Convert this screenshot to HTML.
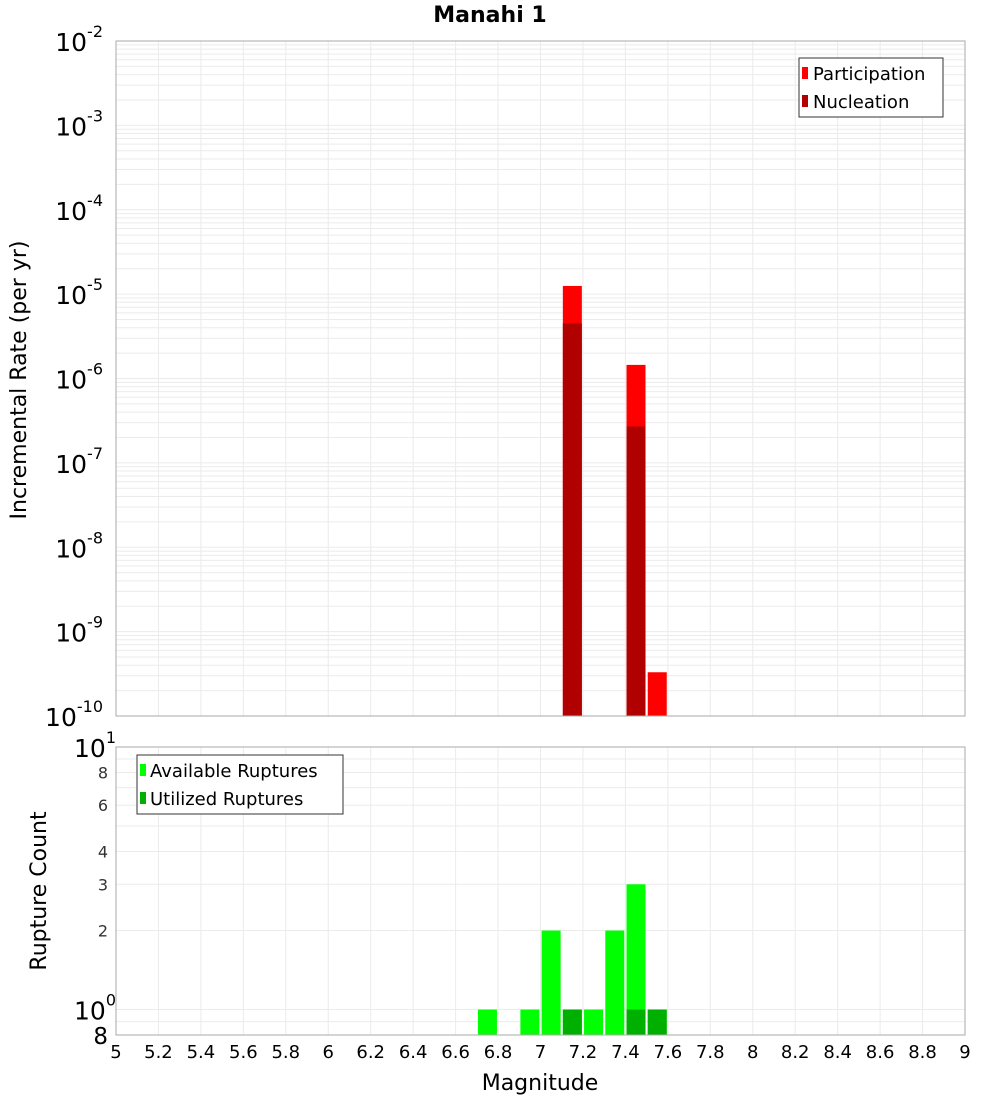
<!DOCTYPE html>
<html><head><meta charset="utf-8"><style>
body{margin:0;background:#fff;width:1000px;height:1100px;overflow:hidden}
svg{font-family:"DejaVu Sans","Liberation Sans",sans-serif}
</style></head><body>
<svg id="chart" width="1000" height="1100"></svg>
<script>
const magCenters=[7.15,7.45,7.55];
const participation=[1.25e-5,1.45e-6,3.3e-10];
const nucleation=[4.5e-6,2.7e-7,0];
const cntMags=[6.75,6.95,7.05,7.15,7.25,7.35,7.45,7.55];
const available=[1,1,2,1,1,2,3,1];
const utilized=[0,0,0,1,0,0,1,1];
const xTicks=[5,5.2,5.4,5.6,5.8,6,6.2,6.4,6.6,6.8,7,7.2,7.4,7.6,7.8,8,8.2,8.4,8.6,8.8,9];
const topExps=[-2,-3,-4,-5,-6,-7,-8,-9,-10];
const botTicks=[8,6,4,3,2];

const NS="http://www.w3.org/2000/svg";
const svg=document.getElementById('chart');
function mk(t,a,p){const e=document.createElementNS(NS,t);for(const k in a)e.setAttribute(k,a[k]);(p||svg).appendChild(e);return e;}
const L=116,R=965,T1=41,B1=716,T2=747,B2=1035;
const xs=m=>L+(m-5)*(R-L)/4;
const y1=v=>T1+(-2-Math.log10(v))*(B1-T1)/8;
const y2=v=>B2-(Math.log10(v)-Math.log10(0.8))*(B2-T2)/(1-Math.log10(0.8));

[[T1,B1],[T2,B2]].forEach(([t,b],i)=>{
  const bg=mk('rect',{x:L,y:t,width:R-L,height:b-t,fill:'#fff'});
  
  
  xTicks.forEach(m=>mk('line',{x1:xs(m),x2:xs(m),y1:t,y2:b,stroke:'#ebebeb','stroke-width':1}));
});
for(let e=-10;e<-2;e++)for(let k=1;k<10;k++){const y=y1(k*Math.pow(10,e));mk('line',{x1:L,x2:R,y1:y,y2:y,stroke:'#ebebeb'});}
[0.8,0.9,1,2,3,4,5,6,7,8,9,10].forEach(v=>{const y=y2(v);mk('line',{x1:L,x2:R,y1:y,y2:y,stroke:'#ebebeb'});});

const bw=19;
magCenters.forEach((m,i)=>{
  const r=mk('rect',{x:xs(m)-bw/2,y:y1(participation[i]),width:bw,height:B1-y1(participation[i]),fill:'#ff0000'});
  
  
  if(nucleation[i]>0){const n=mk('rect',{x:xs(m)-bw/2,y:y1(nucleation[i]),width:bw,height:B1-y1(nucleation[i]),fill:'#b00000'});
  
  }
});
cntMags.forEach((m,i)=>{
  const a=mk('rect',{x:xs(m)-bw/2,y:y2(available[i]),width:bw,height:B2-y2(available[i]),fill:'#00ff00'});
  
  
  if(utilized[i]>0){const u=mk('rect',{x:xs(m)-bw/2,y:y2(utilized[i]),width:bw,height:B2-y2(utilized[i]),fill:'#00b000'});
  
  }
});
mk('rect',{x:L,y:T1,width:R-L,height:B1-T1,fill:'none',stroke:'#aaa'});
mk('rect',{x:L,y:T2,width:R-L,height:B2-T2,fill:'none',stroke:'#aaa'});

topExps.forEach(e=>{
  const y=y1(Math.pow(10,e));
  const t=mk('text',{x:103,y:y+10,'text-anchor':'end','font-size':25,fill:'#000'});
  
  
  t.textContent='10';
  const s=mk('tspan',{dy:-14,'font-size':16},t);s.textContent=String(e);
});
[[10,'1'],[1,'0']].forEach(([v,ex])=>{
  const y=y2(v);const t=mk('text',{x:116,y:y+10,'text-anchor':'end','font-size':25});
  
  
  t.textContent='10';const s=mk('tspan',{dy:-14,'font-size':16},t);s.textContent=ex;
});
botTicks.forEach(v=>{const t=mk('text',{x:108,y:y2(v)+6,'text-anchor':'end','font-size':16,fill:'#333'});
  
  
  t.textContent=String(v);});
{const t=mk('text',{x:108,y:B2+9,'text-anchor':'end','font-size':23});t.textContent='8';}
xTicks.forEach(m=>{const t=mk('text',{x:xs(m),y:1058,'text-anchor':'middle','font-size':18});
  
  
  t.textContent=String(m);});
</script>
<svg style="position:absolute;left:0;top:0" width="1000" height="1100">
<text x="490" y="22" text-anchor="middle" font-size="22" font-weight="bold" font-family="DejaVu Sans, sans-serif">Manahi 1</text>
<text x="540" y="1090" text-anchor="middle" font-size="22" font-family="DejaVu Sans, sans-serif">Magnitude</text>
<text transform="translate(26,380) rotate(-90)" text-anchor="middle" font-size="22" font-family="DejaVu Sans, sans-serif">Incremental Rate (per yr)</text>
<text transform="translate(46,891) rotate(-90)" text-anchor="middle" font-size="22" font-family="DejaVu Sans, sans-serif">Rupture Count</text>
<g font-family="DejaVu Sans, sans-serif" font-size="18">
<rect x="799" y="58" width="144" height="59" fill="#fff" stroke="#333"/>
<rect x="802" y="67" width="6" height="12" fill="#ff0000"/><text x="813" y="80">Participation</text>
<rect x="802" y="95" width="6" height="12" fill="#b00000"/><text x="813" y="108">Nucleation</text>
</g>
<g font-family="DejaVu Sans, sans-serif" font-size="18">
<rect x="137" y="755" width="206" height="59" fill="#fff" stroke="#333"/>
<rect x="140" y="764" width="6" height="12" fill="#00ff00"/><text x="150" y="777">Available Ruptures</text>
<rect x="140" y="792" width="6" height="12" fill="#00b000"/><text x="150" y="805">Utilized Ruptures</text>
</g>
</svg>
</body></html>
